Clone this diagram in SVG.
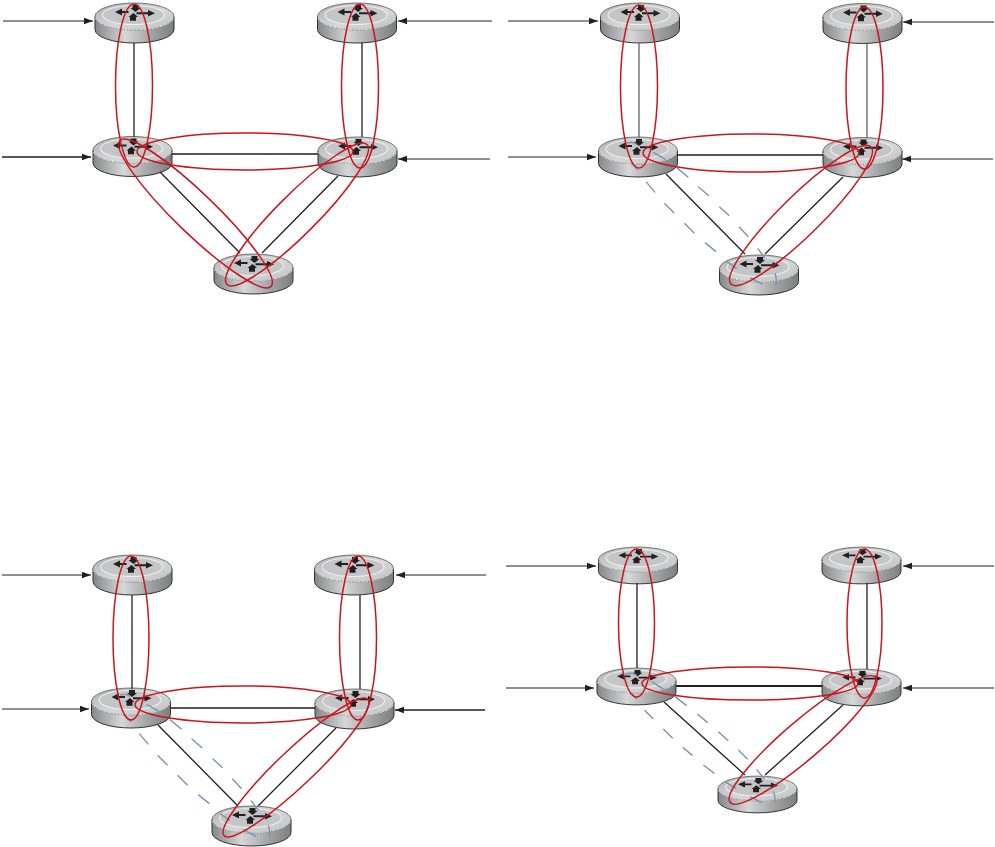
<svg xmlns="http://www.w3.org/2000/svg" width="995" height="847" viewBox="0 0 995 847">
<style>
.wire{stroke:#231f20;stroke-width:1.3;fill:none}
.grey{stroke:#77787a;stroke-width:1.5;fill:none}
.thick{stroke:#231f20;stroke-width:2;fill:none}
.loop{stroke:#c8161f;stroke-width:1.5;fill:none}
.dash{stroke:#7a95b2;stroke-width:4.2;fill:none}
.feed{stroke:#231f20;stroke-width:1;fill:none;marker-end:url(#head)}
.feedb{stroke:#231f20;stroke-width:1.7;fill:none;marker-end:url(#headb)}
</style>
<defs>
<marker id="head" markerUnits="userSpaceOnUse" markerWidth="10" markerHeight="8" refX="9" refY="4" orient="auto"><path d="M0 0.8L9 4L0 7.2Z" fill="#231f20"/></marker>
<marker id="headb" markerUnits="userSpaceOnUse" markerWidth="10" markerHeight="8" refX="9" refY="4" orient="auto"><path d="M0 0.8L9 4L0 7.2Z" fill="#231f20"/></marker>
<linearGradient id="body" x1="0" x2="1" y1="0" y2="0"><stop offset="0" stop-color="#858789"/><stop offset=".38" stop-color="#d6d7d8"/><stop offset=".72" stop-color="#a0a2a4"/><stop offset="1" stop-color="#7c7e80"/></linearGradient>
<linearGradient id="top" x1="0" x2="1" y1="0" y2="1"><stop offset="0" stop-color="#aeb0b2"/><stop offset=".55" stop-color="#d6d7d8"/><stop offset="1" stop-color="#bfc1c3"/></linearGradient>
<g id="router">
<path d="M-39.5 0V13A39.5 13.5 0 0 0 39.5 13V0Z" fill="url(#body)" stroke="#231f20" stroke-width=".9"/>
<ellipse rx="39.5" ry="13.5" fill="url(#top)" stroke="#58595b" stroke-width=".8"/>
<path d="M-39 2A39.5 13.5 0 0 0 39 2" fill="none" stroke="#f4f4f4" stroke-width="1" stroke-dasharray="2 .7"/>
<ellipse cx="-1" cy="-1.5" rx="31" ry="9.5" fill="#c4c5c7" stroke="#ececec" stroke-width="1.2"/>
<path d="M-19.5 -4.5L-12.5 -8V-5.5H-6V-3.5H-12.5V-1Z M2 -4.2H13.5V-6.5L20.5 -3.2L13.5 0V-2.2H2Z M-2 -11.5H4V-8.5H6L1 -4.5L-4 -8.5H-2Z M-4.5 4.2H1.5V0.5H3.5L-1 -3.5L-6 0.5H-4.5Z" fill="#231f20"/>
</g>
<path id="dashes" d="M190 82L228 104M260 128L295 157M325 185L357 213M388 245L418 272M447 305L475 335M503 370L525 400M555 445Q561 460 558 480M110 55Q125 48 140 58M125 115L143 135M168 170L195 202M223 235L253 265M283 295L313 325M345 353L378 380M410 410L440 430M480 458L518 478"/>
<path id="dashes4" d="M185 80L222 103M255 125L290 152M322 177L353 203M385 230L415 257M445 285L473 313M500 343L523 372M550 410Q557 425 555 442M105 60Q122 50 140 60M125 115L140 132M163 165L190 192M220 222L248 250M278 277L308 302M340 330L373 355M405 380L438 400M480 425L515 443"/>
</defs>

<g id="routers-panel-1">
<g id="p1-a" transform="translate(134.5 16.5)"><use href="#router"/></g>
<g id="p1-b" transform="translate(357 16.5)"><use href="#router"/></g>
<g id="p1-c" transform="translate(132.5 150)"><use href="#router"/></g>
<g id="p1-d" transform="translate(357.5 150.5)"><use href="#router"/></g>
<g id="p1-e" transform="translate(253.5 267.5)"><use href="#router"/></g>
</g>
<g id="routers-panel-2">
<g id="p2-a" transform="translate(640 16.5)"><use href="#router"/></g>
<g id="p2-b" transform="translate(862.5 17)"><use href="#router"/></g>
<g id="p2-c" transform="translate(638 150.5)"><use href="#router"/></g>
<g id="p2-d" transform="translate(862.5 151)"><use href="#router"/></g>
<g id="p2-e" transform="translate(759 268.5)"><use href="#router"/></g>
</g>
<g id="routers-panel-3">
<g id="p3-a" transform="translate(132.5 568.5)"><use href="#router"/></g>
<g id="p3-b" transform="translate(354 568.5)"><use href="#router"/></g>
<g id="p3-c" transform="translate(131 701.5)"><use href="#router"/></g>
<g id="p3-d" transform="translate(354.5 702.5)"><use href="#router"/></g>
<g id="p3-e" transform="translate(251.5 819.5)"><use href="#router"/></g>
</g>
<g id="routers-panel-4">
<g id="p4-a" transform="translate(638 559.5) scale(1 .92)"><use href="#router"/></g>
<g id="p4-b" transform="translate(861.5 559.5) scale(1 .92)"><use href="#router"/></g>
<g id="p4-c" transform="translate(636.5 680.5) scale(1 .92)"><use href="#router"/></g>
<g id="p4-d" transform="translate(861.5 681.5) scale(1 .92)"><use href="#router"/></g>
<g id="p4-e" transform="translate(757.5 788.5) scale(1 .92)"><use href="#router"/></g>
</g>

<g id="connectors">
<path class="feed" d="M3 21H93"/><path class="feed" d="M492 21H398"/><path class="feedb" d="M2 157H91"/><path class="feed" d="M490 159H398"/>
<path class="feed" d="M508 21H598"/><path class="feed" d="M994 22H903"/><path class="feed" d="M508 157H596"/><path class="feed" d="M993 159H902"/>
<path class="feed" d="M2 575H91"/><path class="feed" d="M486 575H396"/><path class="feed" d="M2 709H89"/><path class="feedb" d="M485 710H395"/>
<path class="feed" d="M506 566H596"/><path class="feed" d="M994 566H903"/><path class="feed" d="M506 688H594"/><path class="feed" d="M994 688H903"/>

<path class="wire" d="M134 43V137M362 43V137M172 154H318M160 172L240 253M338 176L262 253"/>
<path class="grey" d="M639 43V138M867 44V138"/>
<path class="wire" d="M677 155H823M666 174L745 254M843 177L765 254"/>
<path class="wire" d="M132 595V689M360 595V689M171 708H315M158 725L238 806M336 728L258 806"/>
<path class="wire" d="M637 583V668M867 583V669M664 702L745 775M843 705L765 775"/>
<path class="thick" d="M676 686H822"/>

<use class="dash" href="#dashes" transform="translate(590 125) scale(.3333)"/>
<use class="dash" href="#dashes" transform="translate(83.3 677) scale(.3333)"/>
<use class="dash" href="#dashes4" transform="translate(590 655) scale(.3333)"/>

<ellipse class="loop" cx="134" cy="85.5" rx="18.5" ry="81.5"/>
<ellipse class="loop" cx="360" cy="86" rx="18.5" ry="82"/>
<ellipse class="loop" cx="245" cy="151.5" rx="108" ry="18.5"/>
<ellipse class="loop" transform="rotate(44 195.5 213.5)" cx="195.5" cy="213.5" rx="105" ry="20"/>
<ellipse class="loop" transform="rotate(-45 297 214.5)" cx="297" cy="214.5" rx="99" ry="20"/>

<ellipse class="loop" cx="639" cy="86.5" rx="18.5" ry="81.5"/>
<ellipse class="loop" cx="864.5" cy="88" rx="18.5" ry="81"/>
<ellipse class="loop" cx="751" cy="153" rx="108" ry="19"/>
<ellipse class="loop" transform="rotate(-44.4 801 215.5)" cx="801" cy="215.5" rx="98" ry="20"/>

<ellipse class="loop" cx="131" cy="638" rx="18" ry="82"/>
<ellipse class="loop" cx="358" cy="638" rx="18.5" ry="82"/>
<ellipse class="loop" cx="243" cy="704.5" rx="108" ry="18.5"/>
<ellipse class="loop" transform="rotate(-43.5 296 767.5)" cx="296" cy="767.5" rx="99" ry="18"/>

<ellipse class="loop" cx="636.5" cy="623" rx="18" ry="74"/>
<ellipse class="loop" cx="864.5" cy="623.5" rx="17.5" ry="74.5"/>
<ellipse class="loop" cx="750" cy="683.5" rx="108" ry="16.5"/>
<ellipse class="loop" transform="rotate(-40.7 803 740)" cx="803" cy="740" rx="96" ry="19"/>
</g>
</svg>
